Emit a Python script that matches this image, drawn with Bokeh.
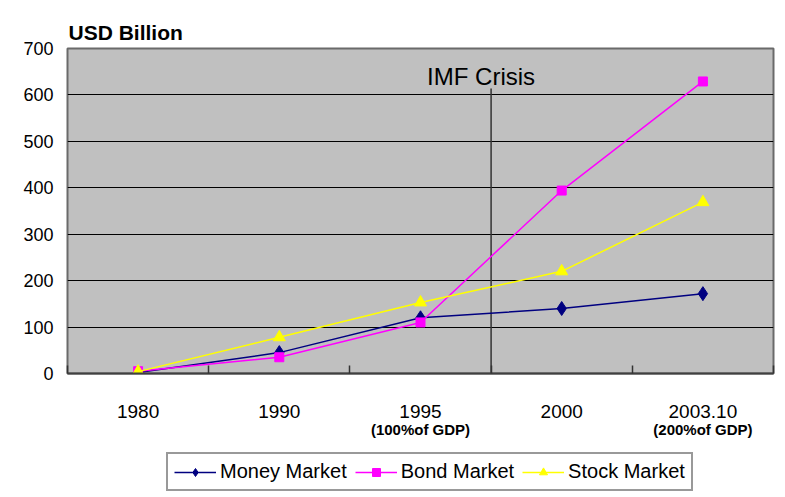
from bokeh.plotting import figure
from bokeh.layouts import column
from bokeh.models import FixedTicker, Legend, LegendItem, Label, Range1d, LinearAxis
from bokeh.embed import file_html
from bokeh.resources import INLINE

categories = ["1980", "1990", "1995", "2000", "2003.10"]
money_market = [2, 45, 120, 140, 172]
bond_market = [5, 35, 110, 394, 629]
stock_market = [4, 78, 153, 220, 369]
y_ticks = [0, 100, 200, 300, 400, 500, 600, 700]
gdp_notes = {"1995": "(100%of GDP)", "2003.10": "(200%of GDP)"}
series_names = ["Money Market", "Bond Market", "Stock Market"]
crisis_label = "IMF Crisis"
crisis_after = "1995"  # crisis line drawn between 1995 and 2000
crisis_line_top = 614

FONT = "Liberation Sans"
COLORS = ["#000080", "#FF00FF", "#FFFF00"]
MARKERS = ["diamond", "square", "triangle"]
SIZES = [14, 9, 12]

series = [money_market, bond_market, stock_market]
xs = [i + 0.5 for i in range(len(categories))]
bounds = list(range(len(categories) + 1))

p = figure(width=785, height=447, x_range=Range1d(0, len(categories)), y_range=Range1d(0, 700),
           output_backend="svg", toolbar_location=None,
           min_border_left=67, min_border_right=12, min_border_top=48, min_border_bottom=74,
           background_fill_color="#C0C0C0", border_fill_color="white")

p.outline_line_color = "#6a6a6a"
p.outline_line_width = 2

# title
p.title.text = "USD Billion"
p.title.text_font = FONT
p.title.text_font_size = "21px"
p.title.text_font_style = "bold"
p.title.text_color = "black"
p.title.align = "left"
p.title.offset = 1

# y axis
p.yaxis.ticker = FixedTicker(ticks=y_ticks)
p.yaxis.major_tick_out = 0
p.yaxis.major_tick_in = 0
p.yaxis.minor_tick_out = 0
p.yaxis.minor_tick_in = 0
p.yaxis.axis_line_color = None
p.yaxis.major_label_standoff = 14
p.yaxis.major_label_text_font = FONT
p.yaxis.major_label_text_font_size = "18px"
p.yaxis.major_label_text_color = "black"

p.ygrid.ticker = FixedTicker(ticks=y_ticks)
p.ygrid.grid_line_color = "black"
p.ygrid.grid_line_width = 1
p.xgrid.grid_line_color = None

# x axis
p.xaxis.ticker = FixedTicker(ticks=xs, minor_ticks=bounds)
p.xaxis.major_label_overrides = {x: c for x, c in zip(xs, categories)}
p.xaxis.major_tick_in = 0
p.xaxis.major_tick_out = 0
p.xaxis.minor_tick_in = 8
p.xaxis.minor_tick_out = 0
p.xaxis.minor_tick_line_color = "#333333"
p.xaxis.minor_tick_line_width = 1.5
p.xaxis.axis_line_color = "#404040"
p.xaxis.axis_line_width = 2
p.xaxis.major_label_standoff = 31
p.xaxis.major_label_text_font = FONT
p.xaxis.major_label_text_font_size = "19px"
p.xaxis.major_label_text_color = "black"

# GDP notes as a second label row under the categories
note_axis = LinearAxis(ticker=FixedTicker(ticks=xs),
                       major_label_overrides={x: gdp_notes.get(c, "") for x, c in zip(xs, categories)})
note_axis.axis_line_color = None
note_axis.major_tick_in = 0
note_axis.major_tick_out = 0
note_axis.minor_tick_in = 0
note_axis.minor_tick_out = 0
note_axis.major_label_standoff = 0
note_axis.major_label_text_font = FONT
note_axis.major_label_text_font_size = "15px"
note_axis.major_label_text_font_style = "bold"
note_axis.major_label_text_color = "black"
p.add_layout(note_axis, "below")

# crisis line
cx = categories.index(crisis_after) + 1
p.segment(x0=[cx], y0=[0], x1=[cx], y1=[crisis_line_top], line_color="#333333", line_width=1.5)
p.add_layout(Label(x=cx, y=640, text=crisis_label, text_align="center", text_baseline="middle",
                   x_offset=-10, text_font=FONT, text_font_size="24px", text_color="black"))

# series
for vals, c, m, s in zip(series, COLORS, MARKERS, SIZES):
    p.line(xs, vals, line_color=c, line_width=1.5)
    p.scatter(xs, vals, marker=m, size=s, fill_color=c, line_color=c)

# legend strip (separate panel under the chart); its renderers lie outside its view
q = figure(width=785, height=50, x_range=Range1d(0, 1), y_range=Range1d(-2, -1),
           output_backend="svg", toolbar_location=None, x_axis_type=None, y_axis_type=None,
           min_border_left=67, min_border_right=0, min_border_top=0, min_border_bottom=0,
           background_fill_color="white", border_fill_color="white")
q.outline_line_color = None
q.xgrid.visible = False
q.ygrid.visible = False
items = []
for name, vals, c, m, s in zip(series_names, series, COLORS, MARKERS, SIZES):
    lr = q.line(xs, vals, line_color=c, line_width=1.5)
    sr = q.scatter(xs, vals, marker=m, size=s, fill_color=c, line_color=c)
    items.append(LegendItem(label=name, renderers=[lr, sr]))

legend = Legend(items=items, orientation="horizontal", location=(99, 6))
legend.border_line_color = "#333333"
legend.border_line_width = 2
legend.background_fill_color = "white"
legend.background_fill_alpha = 1
legend.label_text_font = FONT
legend.label_text_font_size = "20px"
legend.label_text_color = "black"
legend.glyph_width = 42
legend.label_standoff = 4
legend.spacing = 8
legend.padding = 6
legend.margin = 0
q.add_layout(legend)

layout = column(p, q, spacing=0)
open("out.html", "w").write(file_html(layout, INLINE))
